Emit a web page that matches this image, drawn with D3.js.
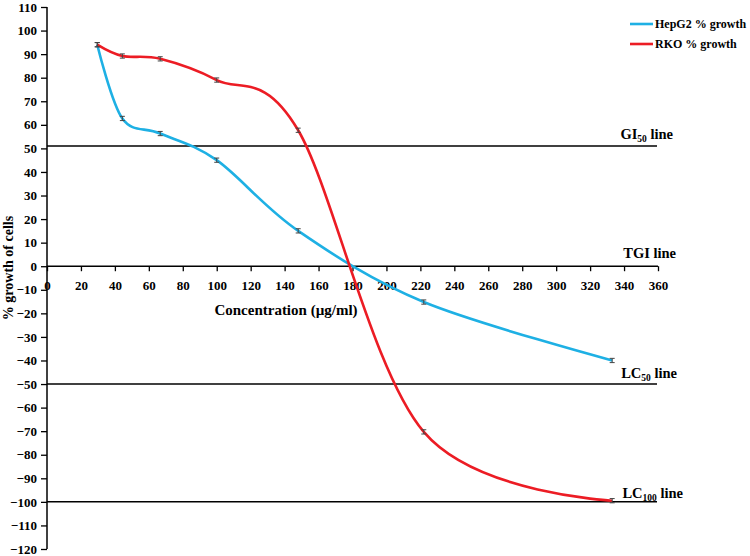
<!DOCTYPE html>
<html>
<head>
<meta charset="utf-8">
<script src="https://cdnjs.cloudflare.com/ajax/libs/d3/7.8.5/d3.min.js"></script>
<style>
  html, body { margin: 0; padding: 0; background: #fff; }
  svg { display: block; }
  text { font-family: "Liberation Serif", "Times New Roman", serif; font-weight: bold; fill: #000; }
</style>
</head>
<body>
<svg id="chart" width="750" height="556"></svg>
<script>
// ---- Data ----
const concentrations = [29.6, 44.4, 66.7, 100, 148, 222, 333];
const hepg2Growth = [94, 62.7, 56.3, 45, 15, -15.2, -40];
const rkoGrowth = [94, 89.2, 88, 79, 57.7, -70.3, -99.5];
const errorHalf = 0.9;
const xTicks = [0, 20, 40, 60, 80, 100, 120, 140, 160, 180, 200, 220, 240, 260, 280, 300, 320, 340, 360];
const yTicks = [110, 100, 90, 80, 70, 60, 50, 40, 30, 20, 10, 0, -10, -20, -30, -40, -50, -60, -70, -80, -90, -100, -110, -120];
const refLines = [
  { name: "GI", sub: "50", value: 51 },
  { name: "TGI", sub: "", value: 0 },
  { name: "LC", sub: "50", value: -50 },
  { name: "LC", sub: "100", value: -100 }
];
const seriesNames = ["HepG2 % growth", "RKO % growth"];
const seriesColors = ["#1eb0e4", "#ec1c24"];

// ---- Scales ----
const svg = d3.select("#chart");
const x = d3.scaleLinear().domain([0, 360]).range([47, 658]);
const y = d3.scaleLinear().domain([-120, 110]).range([549, 7]);

// ---- Reference lines ----
const refG = svg.append("g");
refLines.forEach(r => {
  if (r.value !== 0) {
    refG.append("line")
      .attr("x1", x(0)).attr("x2", x(360) - 1)
      .attr("y1", y(r.value)).attr("y2", y(r.value))
      .attr("stroke", "#000").attr("stroke-width", 1.5);
  }
});

// ---- Y axis ----
const yAxis = d3.axisLeft(y).tickValues(yTicks).tickSize(6).tickPadding(4).tickFormat(d3.format("d"));
const yG = svg.append("g").attr("transform", `translate(${x(0)},0)`).call(yAxis);
yG.select(".domain").attr("stroke", "#000").attr("stroke-width", 1.5).attr("d", `M-0,${y(110)}V${y(-120)}`);
yG.selectAll(".tick line").attr("stroke", "#000").attr("stroke-width", 1.3);
yG.selectAll(".tick text").style("font-family", "'Liberation Serif', serif").style("font-weight", "bold").style("font-size", "13px").attr("fill", "#000");

// ---- X axis (at y = 0) ----
const xAxis = d3.axisBottom(x).tickValues(xTicks).tickSize(5).tickPadding(10).tickFormat(d3.format("d"));
const xG = svg.append("g").attr("transform", `translate(0,${y(0)})`).call(xAxis);
xG.select(".domain").attr("stroke", "#000").attr("stroke-width", 1.5).attr("d", `M${x(0)},0H${x(360)}`);
xG.selectAll(".tick line").attr("stroke", "#000").attr("stroke-width", 1.3);
xG.selectAll(".tick text").style("font-family", "'Liberation Serif', serif").style("font-weight", "bold").style("font-size", "13px").attr("fill", "#000");

// ---- Axis titles ----
svg.append("text")
  .attr("x", 286).attr("y", 315)
  .attr("text-anchor", "middle")
  .style("font-size", "15px")
  .text("Concentration (µg/ml)");
svg.append("text")
  .attr("transform", `translate(13,268) rotate(-90)`)
  .attr("text-anchor", "middle")
  .style("font-size", "14px")
  .text("% growth of cells");

// ---- Series ----
const series = [hepg2Growth, rkoGrowth];
const line = d3.line()
  .x(d => x(d[0]))
  .y(d => y(d[1]))
  .curve(d3.curveCatmullRom.alpha(0));

series.forEach((vals, i) => {
  const pts = concentrations.map((c, j) => [c, vals[j]]);
  svg.append("path")
    .datum(pts)
    .attr("fill", "none")
    .attr("stroke", seriesColors[i])
    .attr("stroke-width", 2.6)
    .attr("d", line);
});

// ---- Error bars ----
series.forEach((vals) => {
  const g = svg.append("g");
  concentrations.forEach((c, j) => {
    const cx = x(c);
    const y1 = y(vals[j] + errorHalf), y2 = y(vals[j] - errorHalf);
    g.append("line").attr("x1", cx).attr("x2", cx).attr("y1", y1).attr("y2", y2).attr("stroke", "#444").attr("stroke-width", 1);
    g.append("line").attr("x1", cx - 2.5).attr("x2", cx + 2.5).attr("y1", y1).attr("y2", y1).attr("stroke", "#444").attr("stroke-width", 1);
    g.append("line").attr("x1", cx - 2.5).attr("x2", cx + 2.5).attr("y1", y2).attr("y2", y2).attr("stroke", "#444").attr("stroke-width", 1);
  });
});

// ---- Reference line labels ----
const labelPos = [
  { x: 673, y: 139 },
  { x: 676, y: 258 },
  { x: 677, y: 378 },
  { x: 683, y: 498 }
];
refLines.forEach((r, i) => {
  const t = svg.append("text")
    .attr("x", labelPos[i].x).attr("y", labelPos[i].y)
    .attr("text-anchor", "end")
    .style("font-size", "14.5px");
  t.append("tspan").text(r.name);
  if (r.sub) {
    t.append("tspan").attr("dy", 3).style("font-size", "9.5px").text(r.sub);
    t.append("tspan").attr("dy", -3).text(" line");
  } else {
    t.append("tspan").text(" line");
  }
});

// ---- Legend ----
const legend = svg.append("g");
seriesNames.forEach((name, i) => {
  const ly = 24 + i * 20;
  legend.append("line").attr("x1", 630).attr("x2", 653).attr("y1", ly).attr("y2", ly)
    .attr("stroke", seriesColors[i]).attr("stroke-width", 2.6);
  legend.append("text").attr("x", 655).attr("y", ly + 4)
    .style("font-size", "12px").text(name);
});
</script>
</body>
</html>
